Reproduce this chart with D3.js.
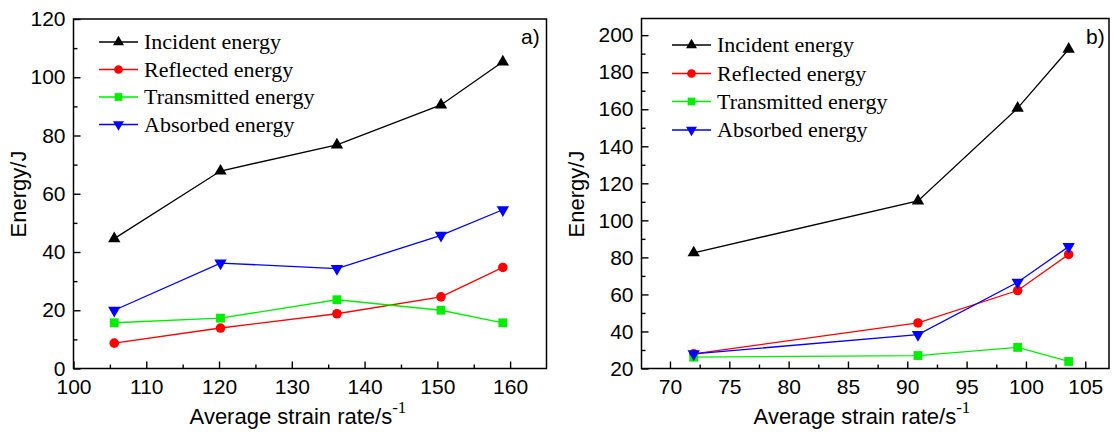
<!DOCTYPE html>
<html><head><meta charset="utf-8">
<script src="https://cdn.jsdelivr.net/npm/d3@7"></script>
<style>
html,body{margin:0;padding:0;background:#fff;}
svg{display:block;}
</style></head>
<body>
<svg id="chart" width="1114" height="432"></svg>
<script>
// ---- Data: panel a ----
const aStrain = [105.6, 120.2, 136.2, 150.5, 159.0];
const aIncident = [44.6, 67.8, 76.8, 90.5, 105.3];
const aReflected = [8.7, 13.9, 18.8, 24.6, 34.7];
const aTransmitted = [15.7, 17.3, 23.6, 20.0, 15.7];
const aAbsorbed = [20.0, 36.2, 34.3, 45.7, 54.5];
const aXTicks = [100, 110, 120, 130, 140, 150, 160];
const aYTicks = [0, 20, 40, 60, 80, 100, 120];

// ---- Data: panel b ----
const bStrain = [72.0, 90.9, 99.3, 103.6];
const bIncident = [82.5, 110.5, 160.6, 192.4];
const bReflected = [27.9, 44.6, 62.1, 81.6];
const bTransmitted = [26.1, 27.0, 31.4, 23.8];
const bAbsorbed = [27.9, 38.3, 66.6, 85.8];
const bXTicks = [70, 75, 80, 85, 90, 95, 100, 105];
const bYTicks = [20, 40, 60, 80, 100, 120, 140, 160, 180, 200];

const seriesNames = ["Incident energy", "Reflected energy", "Transmitted energy", "Absorbed energy"];
const seriesColors = ["#000000", "#ff0000", "#00ee00", "#0000ff"];
const seriesSymbols = [d3.symbolTriangle, d3.symbolCircle, d3.symbolSquare, "down"];

const svg = d3.select("#chart");
const SANS = "Arial, 'Liberation Sans', sans-serif";
const SERIF = "'Times New Roman', 'Liberation Serif', serif";

function markerPath(sym, size) {
  if (sym === "down") return d3.symbol(d3.symbolTriangle, size)();
  return d3.symbol(sym, size)();
}

function panel(cfg) {
  const g = svg.append("g");
  const x = d3.scaleLinear().domain(cfg.xDomain).range([cfg.left, cfg.right]);
  const y = d3.scaleLinear().domain(cfg.yDomain).range([cfg.bottom, cfg.top]);

  g.append("rect").attr("x", cfg.left).attr("y", cfg.top)
    .attr("width", cfg.right - cfg.left).attr("height", cfg.bottom - cfg.top)
    .attr("fill", "none").attr("stroke", "#000").attr("stroke-width", 1.5);

  const xa = g.append("g").attr("transform", `translate(0,${cfg.bottom})`)
    .call(d3.axisBottom(x).tickValues(cfg.xTicks).tickSize(-7).tickPadding(11).tickFormat(d3.format("d")));
  const xm = g.append("g").attr("transform", `translate(0,${cfg.bottom})`)
    .call(d3.axisBottom(x).tickValues(cfg.xMinor).tickSize(-4).tickFormat(""));
  const ya = g.append("g").attr("transform", `translate(${cfg.left},0)`)
    .call(d3.axisLeft(y).tickValues(cfg.yTicks).tickSize(-7).tickPadding(8).tickFormat(d3.format("d")));
  const ym = g.append("g").attr("transform", `translate(${cfg.left},0)`)
    .call(d3.axisLeft(y).tickValues(cfg.yMinor).tickSize(-4).tickFormat(""));
  [xa, xm, ya, ym].forEach(a => {
    a.select(".domain").remove();
    a.selectAll("line").attr("stroke", "#000").attr("stroke-width", 1.4);
    a.selectAll("text").attr("font-family", SANS).attr("font-size", 21).attr("fill", "#000");
  });

  cfg.series.forEach((vals, i) => {
    const pts = cfg.xs.map((xv, j) => [xv, vals[j]]);
    g.append("path").datum(pts)
      .attr("d", d3.line().x(d => x(d[0])).y(d => y(d[1])))
      .attr("fill", "none").attr("stroke", seriesColors[i]).attr("stroke-width", 1.3);
  });
  cfg.series.forEach((vals, i) => {
    const pts = cfg.xs.map((xv, j) => [xv, vals[j]]);
    const sym = seriesSymbols[i];
    const size = sym === d3.symbolCircle ? 72 : (sym === d3.symbolSquare ? 78 : 66);
    g.selectAll(null).data(pts).enter().append("path")
      .attr("d", markerPath(sym, size))
      .attr("transform", d => `translate(${x(d[0])},${y(d[1])})` + (sym === "down" ? " rotate(180)" : ""))
      .attr("fill", seriesColors[i]);
  });

  seriesNames.forEach((name, i) => {
    const ly = cfg.legendY[i];
    g.append("line").attr("x1", cfg.legendX).attr("x2", cfg.legendX + 39)
      .attr("y1", ly).attr("y2", ly).attr("stroke", seriesColors[i]).attr("stroke-width", 1.3);
    const sym = seriesSymbols[i];
    const size = sym === d3.symbolCircle ? 60 : (sym === d3.symbolSquare ? 60 : 52);
    g.append("path").attr("d", markerPath(sym, size))
      .attr("transform", `translate(${cfg.legendX + 19.5},${ly})` + (sym === "down" ? " rotate(180)" : ""))
      .attr("fill", seriesColors[i]);
    g.append("text").attr("x", cfg.legendX + 45).attr("y", ly).attr("dy", "0.33em")
      .attr("font-family", SERIF).attr("font-size", 22).attr("fill", "#000").text(name);
  });

  g.append("text").attr("x", cfg.labelX).attr("y", 44).attr("font-family", SANS)
    .attr("font-size", 21).attr("fill", "#000").text(cfg.label);

  g.append("text").attr("transform", `translate(${cfg.yTitleX},194) rotate(-90)`)
    .attr("text-anchor", "middle").attr("dy", "0.35em")
    .attr("font-family", SANS).attr("font-size", 22).attr("fill", "#000").text("Energy/J");

  const xt = g.append("text").attr("x", cfg.xTitleX).attr("y", 424).attr("text-anchor", "middle")
    .attr("font-family", SANS).attr("font-size", 22).attr("fill", "#000");
  xt.append("tspan").text("Average strain rate/s");
  xt.append("tspan").attr("dy", -11).attr("font-family", SERIF).attr("font-size", 17).text("-1");
}

panel({
  left: 73.5, right: 546.5, top: 19, bottom: 368.5,
  xDomain: [100, 165], yDomain: [0, 120],
  xTicks: aXTicks, xMinor: [105, 115, 125, 135, 145, 155],
  yTicks: aYTicks, yMinor: [10, 30, 50, 70, 90, 110],
  xs: aStrain, series: [aIncident, aReflected, aTransmitted, aAbsorbed],
  legendX: 99, legendY: [42, 69.5, 97, 124.5],
  label: "a)", labelX: 521, yTitleX: 18, xTitleX: 298
});

panel({
  left: 641.5, right: 1109, top: 18.5, bottom: 368.5,
  xDomain: [67.6, 107], yDomain: [20, 209],
  xTicks: bXTicks, xMinor: [72.5, 77.5, 82.5, 87.5, 92.5, 97.5, 102.5],
  yTicks: bYTicks, yMinor: [30, 50, 70, 90, 110, 130, 150, 170, 190],
  xs: bStrain, series: [bIncident, bReflected, bTransmitted, bAbsorbed],
  legendX: 672, legendY: [45, 73.5, 101.5, 130],
  label: "b)", labelX: 1086, yTitleX: 576, xTitleX: 862
});
</script>
</body></html>
